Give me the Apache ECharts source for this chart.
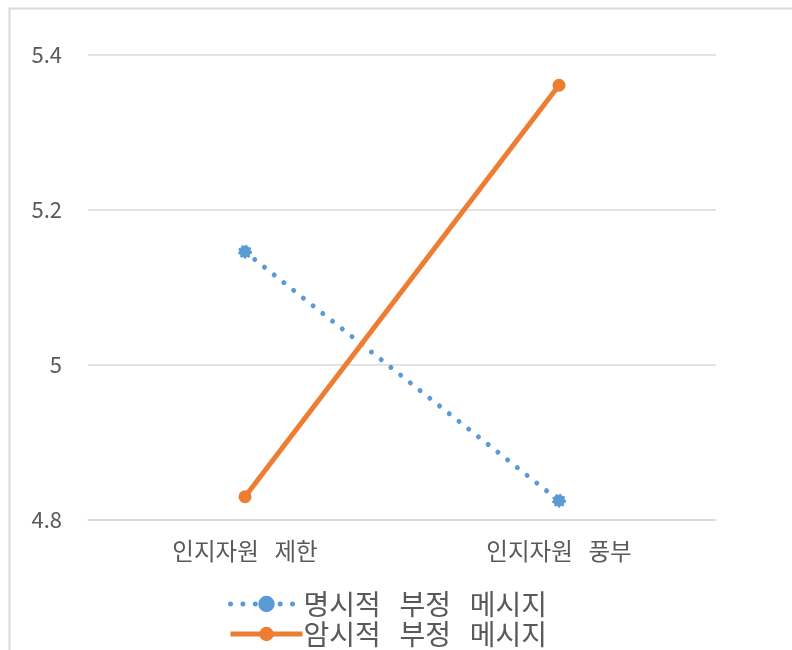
<!DOCTYPE html>
<html>
<head>
<meta charset="utf-8">
<script src="https://cdn.jsdelivr.net/npm/echarts@6/dist/echarts.min.js"></script>
<style>
  html, body { margin: 0; padding: 0; background: #fff; }
  #chart { width: 792px; height: 650px; }
</style>
</head>
<body>
<div id="chart"></div>
<script>
  var categories = ['인지자원 제한', '인지자원 풍부']
  var seriesNames = ['명시적 부정 메시지', '암시적 부정 메시지']
  var explicitValues = [5.146, 4.825]
  var implicitValues = [4.830, 5.361]

  var chart = echarts.init(document.getElementById('chart'))
  var font = '"Noto Sans CJK KR", "Noto Sans", sans-serif'
  // wider word gaps like the original font
  var wide = function(s) { return s.replace(/ /g, '\u2002\u2006') }

  chart.setOption({
    animation: false,
    textStyle: { fontFamily: font },
    graphic: [{
      type: 'rect',
      shape: { x: 9.5, y: 8.5, width: 820, height: 700 },
      style: { fill: 'none', stroke: '#d9d9d9', lineWidth: 2 }
    }],
    grid: { left: 88, right: 76, top: 55, bottom: 130 },
    legend: {
      orient: 'vertical',
      left: 228,
      top: 590,
      padding: 0,
      itemWidth: 72,
      itemHeight: 18,
      itemGap: 2,
      data: seriesNames,
      lineStyle: { width: 'inherit' },
      textStyle: { fontSize: 28, color: '#595959', fontFamily: font, padding: [0, 0, 0, -4] },
      formatter: wide
    },
    xAxis: {
      type: 'category',
      data: categories,
      boundaryGap: true,
      axisLine: { lineStyle: { color: '#d9d9d9', width: 1.5 } },
      axisTick: { show: false },
      axisLabel: { fontSize: 23.5, color: '#595959', margin: 19, formatter: wide }
    },
    yAxis: {
      type: 'value',
      min: 4.8,
      max: 5.4,
      interval: 0.2,
      axisLine: { show: false },
      axisTick: { show: false },
      axisLabel: { fontSize: 22, color: '#595959', margin: 26 },
      splitLine: { lineStyle: { color: '#d9d9d9', width: 1.5 } }
    },
    series: [
      {
        name: seriesNames[0],
        type: 'line',
        data: explicitValues,
        symbol: 'circle',
        symbolSize: 12,
        lineStyle: { color: '#5B9BD5', width: 5, type: [0.01, 12.4], cap: 'round' },
        itemStyle: { color: '#5B9BD5', borderColor: '#5B9BD5', borderWidth: 2, borderType: 'dotted' }
      },
      {
        name: seriesNames[1],
        type: 'line',
        data: implicitValues,
        symbol: 'circle',
        symbolSize: 13,
        lineStyle: { color: '#ED7D31', width: 5 },
        itemStyle: { color: '#ED7D31' }
      }
    ]
  })
</script>
</body>
</html>
